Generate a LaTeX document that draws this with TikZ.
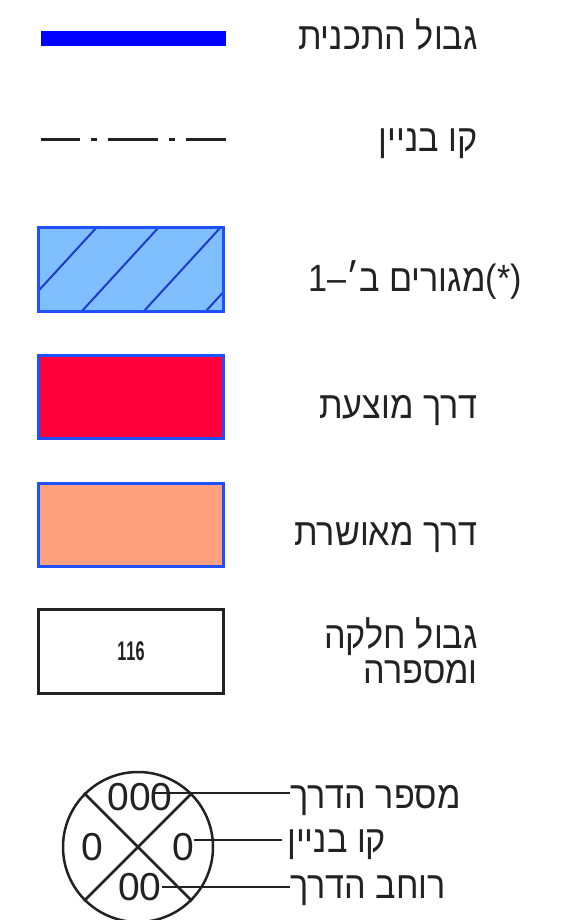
\documentclass[tikz,border=0pt]{standalone}
\usepackage{fontspec}
\newfontfamily\hebfont[Script=Hebrew]{Liberation Sans}
\TeXXeTstate=1

\definecolor{planblue}{HTML}{0000FF}
\definecolor{edgeblue}{HTML}{1E50FF}
\definecolor{hatchblue}{HTML}{1E3CC8}
\definecolor{zonefill}{HTML}{80BFFF}
\definecolor{roadred}{HTML}{FF003C}
\definecolor{roadsalmon}{HTML}{FFA07F}
\definecolor{inkgray}{HTML}{222222}

\tikzset{
  lbl/.style={anchor=base east, inner sep=0pt, text=inkgray, xscale=0.9,
    font=\hebfont\fontsize{38}{35}\selectfont},
  keylbl/.style={lbl, anchor=base west},
  keyedge/.style={draw=edgeblue, line width=3pt},
  digit/.style={inner sep=0pt, text=inkgray, font=\hebfont\fontsize{39}{42}\selectfont},
  leader/.style={inkgray, line width=2.5pt},
}

\begin{document}
\begin{tikzpicture}[x=1pt,y=-1pt]
  \useasboundingbox (0,0) rectangle (562,920);
  % plan boundary
  \draw[planblue, line width=15pt] (41,39) -- (226,39);
  \node[lbl] (planlbl) at (478,50) {\beginR גבול התכנית\endR};
  % building line
  \draw[inkgray, line width=3pt, dash pattern=on 50pt off 11pt on 6pt off 11pt, dash phase=11pt]
    (41,140) -- (226,140);
  \node[lbl] (buildlbl) at (478,152) {\beginR קו בניין\endR};
  % residential zone, hatched
  \fill[zonefill] (38,227) rectangle (223,311);
  \begin{scope}
    \clip (38,227) rectangle (223,311);
    \foreach \t in {97,159,221,283}
      \draw[hatchblue, line width=2pt] (\t,227) -- (\t-77,311);
  \end{scope}
  \draw[keyedge] (38,227) rectangle (223,311);
  \node[lbl] (zonelbl) at (522,291) {\beginR(*)מגורים ב׳–1\endR};
  % proposed road
  \draw[keyedge, fill=roadred] (38,355) rectangle (223,438);
  \node[lbl] (newroadlbl) at (478,418) {\beginR דרך מוצעת\endR};
  % approved road
  \draw[keyedge, fill=roadsalmon] (38,483) rectangle (223,566);
  \node[lbl] (oldroadlbl) at (478,545) {\beginR דרך מאושרת\endR};
  % plot boundary and number
  \draw[inkgray, line width=3pt] (38,609) rectangle (223,693);
  \node[digit, font=\hebfont\bfseries\fontsize{27}{30}\selectfont, xscale=0.6] (plotnum) at (131,651) {116};
  \node[lbl, align=right] (plotlbl) at (478,683) {\beginR גבול חלקה\endR\\\beginR ומספרה\endR};
  % road key circle
  \node[circle, draw=inkgray, line width=2.5pt, minimum size=150pt, inner sep=0pt] (roadkey) at (138,847) {};
  \draw[leader] (roadkey.45) -- (roadkey.225);
  \draw[leader] (roadkey.135) -- (roadkey.-45);
  \node[digit] (roadnum) at (140,797) {000};
  \node[digit] (leftline) at (92,847) {0};
  \node[digit] (rightline) at (183,847) {0};
  \node[digit] (roadwidth) at (140,887) {00};
  \node[keylbl] (numlbl) at (290,808) {\beginR מספר הדרך\endR};
  \node[keylbl] (linelbl) at (287,852) {\beginR קו בניין\endR};
  \node[keylbl] (widthlbl) at (290,898) {\beginR רוחב הדרך\endR};
  \coordinate (numtip) at ([xshift=-19pt,yshift=4pt]roadnum.east);
  \coordinate (linetip) at ([yshift=7pt]rightline.east);
  \draw[leader] (numtip) -- (numtip -| numlbl.west);
  \draw[leader] (linetip) -- ([xshift=-5pt]linetip -| linelbl.west);
  \draw[leader] (roadwidth.east) -- (roadwidth.east -| widthlbl.west);
\end{tikzpicture}
\end{document}
